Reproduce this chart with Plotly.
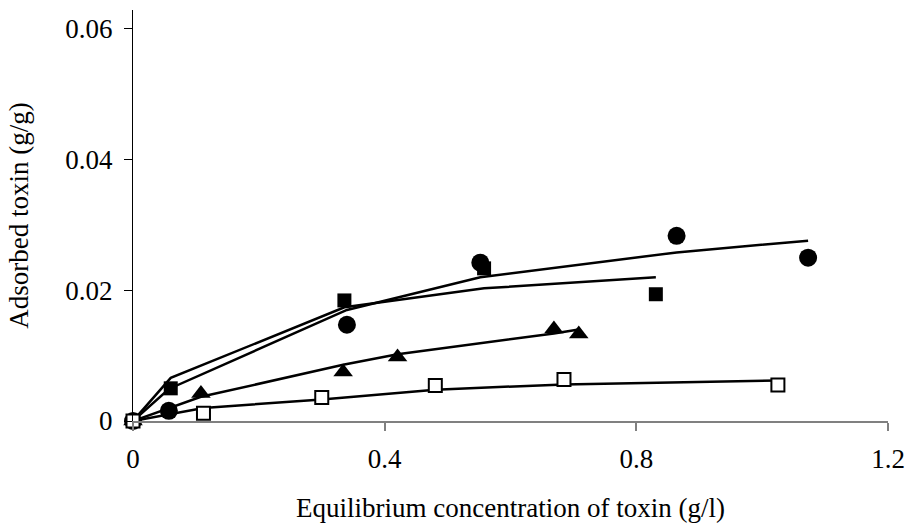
import plotly.graph_objects as go

# Data
circ_x = [0, 0.057, 0.340, 0.552, 0.864, 1.073]
circ_y = [0, 0.00155, 0.01473, 0.02423, 0.02834, 0.0250]
circ_fit = [0, 0.0049, 0.0170, 0.0220, 0.0258, 0.0276]

sq_x = [0, 0.060, 0.336, 0.558, 0.831]
sq_y = [0, 0.0050, 0.01845, 0.02336, 0.0194]
sq_fit = [0, 0.0066, 0.0174, 0.0203, 0.0220]

tri_x = [0, 0.108, 0.334, 0.4205, 0.669, 0.7085]
tri_y = [0, 0.0042, 0.0075, 0.0098, 0.01408, 0.0133]
tri_fit = [0, 0.0037, 0.0086, 0.0102, 0.0134, 0.0140]

osq_x = [0, 0.112, 0.300, 0.4805, 0.685, 1.025]
osq_y = [0, 0.0012, 0.0036, 0.00545, 0.00637, 0.0055]
osq_fit = [0, 0.0020, 0.0033, 0.0048, 0.0056, 0.0062]

x_ticks = [0, 0.4, 0.8, 1.2]
x_labels = ["0", "0.4", "0.8", "1.2"]
y_ticks = [0, 0.02, 0.04, 0.06]
y_labels = ["0", "0.02", "0.04", "0.06"]

FONT = "Liberation Serif"
FS = 27
LW = 2.5

fig = go.Figure()
for xs, fit in [(circ_x, circ_fit), (sq_x, sq_fit), (tri_x, tri_fit), (osq_x, osq_fit)]:
    fig.add_trace(go.Scatter(x=xs, y=fit, mode="lines", line=dict(color="black", width=LW),
                             showlegend=False, cliponaxis=False, hoverinfo="skip"))

fig.add_trace(go.Scatter(x=circ_x, y=circ_y, mode="markers", cliponaxis=False, showlegend=False,
                         marker=dict(symbol="circle", size=18, color="black")))
fig.add_trace(go.Scatter(x=sq_x, y=sq_y, mode="markers", cliponaxis=False, showlegend=False,
                         marker=dict(symbol="square", size=14, color="black")))
fig.add_trace(go.Scatter(x=tri_x, y=tri_y, mode="markers", cliponaxis=False, showlegend=False,
                         marker=dict(symbol="triangle-up", size=17, color="black")))
fig.add_trace(go.Scatter(x=osq_x, y=osq_y, mode="markers", cliponaxis=False, showlegend=False,
                         marker=dict(symbol="square", size=13, color="white",
                                     line=dict(color="black", width=2))))

fig.update_layout(
    width=915, height=528,
    margin=dict(l=133, r=22, t=10, b=104),
    paper_bgcolor="white", plot_bgcolor="white",
    font=dict(family=FONT, size=FS, color="black"),
    xaxis=dict(range=[0, 1.2], tickvals=x_ticks, ticktext=x_labels, showgrid=False, zeroline=False,
               showline=True, linecolor="#808080", linewidth=1.5, ticks="outside", ticklen=8,
               tickcolor="#808080", tickwidth=1.5, ticklabelstandoff=5,
               tickfont=dict(family=FONT, size=FS, color="black"),
               title=dict(text="Equilibrium concentration of toxin (g/l)", standoff=25,
                          font=dict(family=FONT, size=FS, color="black"))),
    yaxis=dict(range=[0, 0.0629], tickvals=y_ticks, ticktext=y_labels, showgrid=False, zeroline=False,
               showline=True, linecolor="black", linewidth=1, ticks="outside", ticklen=8,
               tickcolor="black", tickwidth=1, ticklabelstandoff=6,
               tickfont=dict(family=FONT, size=FS, color="black"),
               title=dict(text="Adsorbed toxin (g/g)", standoff=28,
                          font=dict(family=FONT, size=FS, color="black"))),
)

fig.write_html("out.html")
